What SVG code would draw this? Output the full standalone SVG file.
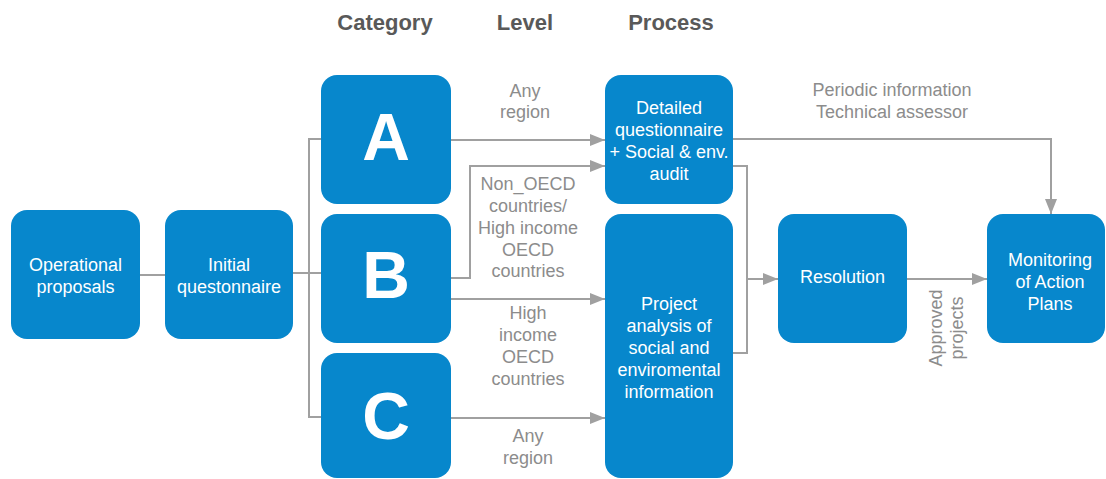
<svg xmlns="http://www.w3.org/2000/svg" width="1106" height="479" viewBox="0 0 1106 479">
<defs>
<style>
.box{fill:#0787cc;}
.bt{font-family:"Liberation Sans",Arial,sans-serif;font-size:18px;fill:#ffffff;text-anchor:middle;}
.big{font-family:"Liberation Sans",Arial,sans-serif;font-size:66px;font-weight:bold;fill:#ffffff;text-anchor:middle;}
.hd{font-family:"Liberation Sans",Arial,sans-serif;font-size:22px;font-weight:bold;fill:#595959;text-anchor:middle;}
.lb{font-family:"Liberation Sans",Arial,sans-serif;font-size:18px;fill:#8c8c8c;text-anchor:middle;}
.ln{fill:none;stroke:#a0a0a0;stroke-width:2;}
.ar{marker-end:url(#ah);}
</style>
<marker id="ah" markerUnits="userSpaceOnUse" markerWidth="15" markerHeight="12" refX="15" refY="6" orient="auto">
<path d="M0,0 L15,6 L0,12 z" fill="#a0a0a0"/>
</marker>
</defs>
<rect width="1106" height="479" fill="#ffffff"/>

<g id="headers">
<text class="hd" x="385" y="30">Category</text>
<text class="hd" x="525" y="30">Level</text>
<text class="hd" x="671" y="30">Process</text>
</g>

<g id="connectors">
<path class="ln" d="M140,275 H165"/>
<path class="ln" d="M293,273 H321"/>
<path class="ln" d="M321,139 H309 V417 H321"/>
<path class="ln ar" d="M451,140 H605"/>
<path class="ln ar" d="M451,278 H470 V166 H605"/>
<path class="ln ar" d="M451,299 H605"/>
<path class="ln ar" d="M451,418 H605"/>
<path class="ln" d="M733,166 H747 V353 H733"/>
<path class="ln ar" d="M747,279 H778"/>
<path class="ln ar" d="M907,279 H987"/>
<path class="ln ar" d="M733,139 H1051 V214"/>
</g>

<g id="labels">
<text class="lb" x="525" y="97">Any</text>
<text class="lb" x="525" y="118">region</text>
<text class="lb" x="528" y="190">Non_OECD</text>
<text class="lb" x="528" y="212">countries/</text>
<text class="lb" x="528" y="234">High income</text>
<text class="lb" x="528" y="256">OECD</text>
<text class="lb" x="528" y="277">countries</text>
<text class="lb" x="528" y="319">High</text>
<text class="lb" x="528" y="341">income</text>
<text class="lb" x="528" y="363">OECD</text>
<text class="lb" x="528" y="385">countries</text>
<text class="lb" x="528" y="442">Any</text>
<text class="lb" x="528" y="464">region</text>
<text class="lb" x="892" y="96">Periodic information</text>
<text class="lb" x="892" y="118">Technical assessor</text>
<text class="lb" transform="translate(942,328) rotate(-90)">Approved</text>
<text class="lb" transform="translate(963,328) rotate(-90)">projects</text>
</g>

<g id="operational">
<rect class="box" x="11" y="210" width="129" height="129" rx="16"/>
<text class="bt" x="75.5" y="271">Operational</text>
<text class="bt" x="75.5" y="293">proposals</text>
</g>
<g id="initial">
<rect class="box" x="165" y="210" width="128" height="129" rx="16"/>
<text class="bt" x="229" y="271">Initial</text>
<text class="bt" x="229" y="293">questonnaire</text>
</g>
<g id="catA">
<rect class="box" x="321" y="75" width="130" height="129" rx="16"/>
<text class="big" x="386" y="160">A</text>
</g>
<g id="catB">
<rect class="box" x="321" y="214" width="130" height="129" rx="16"/>
<text class="big" x="386" y="298">B</text>
</g>
<g id="catC">
<rect class="box" x="321" y="353" width="130" height="125" rx="16"/>
<text class="big" x="386" y="439">C</text>
</g>
<g id="detailed">
<rect class="box" x="605" y="75" width="128" height="129" rx="16"/>
<text class="bt" x="669" y="114">Detailed</text>
<text class="bt" x="669" y="136">questionnaire</text>
<text class="bt" x="669" y="158">+ Social &amp; env.</text>
<text class="bt" x="669" y="180">audit</text>
</g>
<g id="project">
<rect class="box" x="605" y="214" width="128" height="264" rx="16"/>
<text class="bt" x="669" y="310">Project</text>
<text class="bt" x="669" y="332">analysis of</text>
<text class="bt" x="669" y="354">social and</text>
<text class="bt" x="669" y="376">enviromental</text>
<text class="bt" x="669" y="398">information</text>
</g>
<g id="resolution">
<rect class="box" x="778" y="214" width="129" height="129" rx="16"/>
<text class="bt" x="842.5" y="283">Resolution</text>
</g>
<g id="monitoring">
<rect class="box" x="987" y="214" width="118" height="129" rx="16"/>
<text class="bt" x="1050" y="266">Monitoring</text>
<text class="bt" x="1050" y="288">of Action</text>
<text class="bt" x="1050" y="310">Plans</text>
</g>
</svg>
